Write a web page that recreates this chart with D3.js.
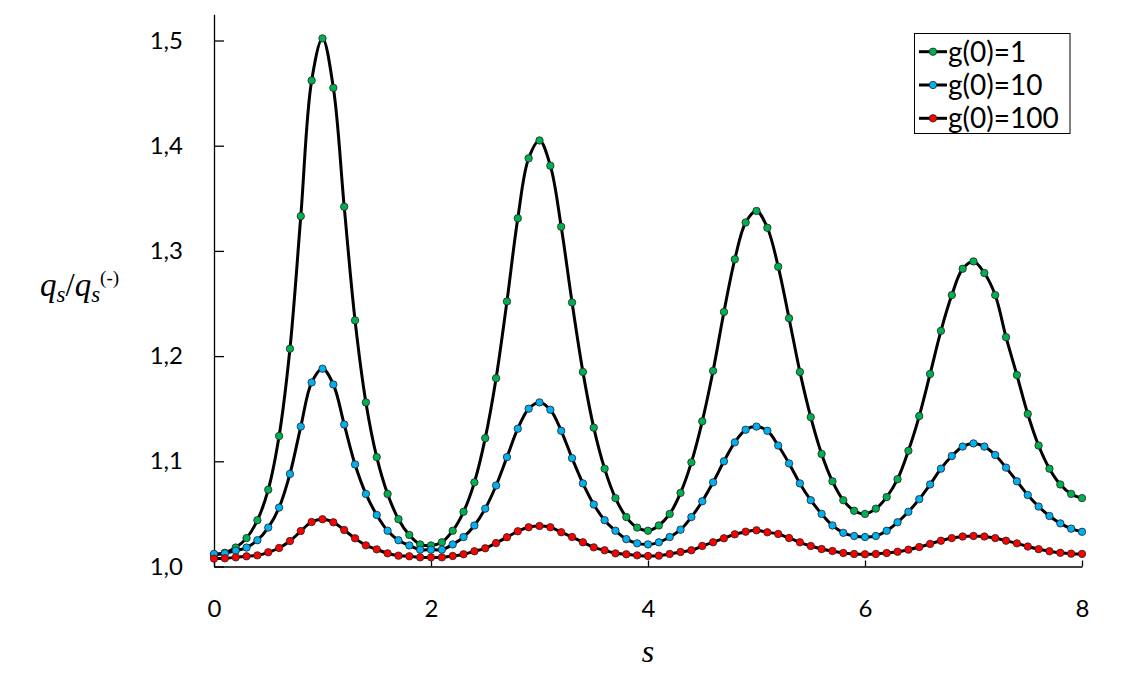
<!DOCTYPE html>
<html>
<head>
<meta charset="utf-8">
<script src="https://cdn.jsdelivr.net/npm/d3@7"></script>
<style>
  html, body { margin: 0; padding: 0; background: #fff; }
  svg { display: block; }
  .tick text { font-family: Lato, "Open Sans", sans-serif; font-size: 24px; fill: #000; }
  .serif { font-family: "Liberation Serif", "DejaVu Serif", serif; }
</style>
</head>
<body>
<svg id="chart" width="1133" height="678"></svg>
<script>
// ---- data (s = 0, 0.1, ..., 8.0) ----
const sValues = d3.range(81).map(i => +(i / 10).toFixed(1));

const seriesNames = ["g(0)=1", "g(0)=10", "g(0)=100"];
const seriesColors = ["#00B050", "#00B0F0", "#FF0000"];

const g1 = [
  1.011, 1.013, 1.018, 1.027, 1.044, 1.073, 1.124, 1.207, 1.333, 1.462,
  1.502, 1.455, 1.342, 1.234, 1.156, 1.104, 1.069, 1.045, 1.030, 1.021,
  1.020, 1.023, 1.034, 1.052, 1.080, 1.122, 1.179, 1.252, 1.331, 1.388,
  1.405, 1.381, 1.323, 1.251, 1.185, 1.132, 1.093, 1.065, 1.047, 1.037,
  1.034, 1.039, 1.050, 1.070, 1.099, 1.138, 1.186, 1.242, 1.292, 1.327,
  1.338, 1.322, 1.285, 1.236, 1.185, 1.142, 1.107, 1.081, 1.063, 1.053,
  1.050, 1.055, 1.066, 1.083, 1.110, 1.143, 1.183, 1.224, 1.258, 1.283,
  1.290, 1.279, 1.258, 1.218, 1.182, 1.145, 1.115, 1.093, 1.078, 1.069,
  1.065
];

const g10 = [
  1.012, 1.0125, 1.015, 1.018, 1.025, 1.037, 1.056, 1.088, 1.133, 1.175,
  1.188, 1.173, 1.135, 1.097, 1.069, 1.049, 1.034, 1.025, 1.020, 1.016,
  1.016, 1.016, 1.021, 1.028, 1.039, 1.055, 1.077, 1.104, 1.131, 1.150,
  1.156, 1.149, 1.129, 1.103, 1.079, 1.059, 1.044, 1.034, 1.026, 1.022,
  1.021, 1.023, 1.028, 1.035, 1.047, 1.062, 1.080, 1.100, 1.118, 1.130,
  1.133, 1.129, 1.115, 1.098, 1.079, 1.063, 1.050, 1.039, 1.032, 1.029,
  1.028, 1.029, 1.034, 1.042, 1.052, 1.064, 1.078, 1.093, 1.105, 1.114,
  1.117, 1.114, 1.106, 1.094, 1.081, 1.068, 1.057, 1.048, 1.041, 1.036,
  1.033
];

const g100 = [
  1.0075, 1.0078, 1.0087, 1.0097, 1.0106, 1.0135, 1.0176, 1.0242, 1.0337, 1.0423,
  1.0449, 1.0420, 1.0347, 1.0268, 1.0201, 1.0163, 1.0125, 1.0103, 1.0097, 1.0087,
  1.0087, 1.0087, 1.0100, 1.0116, 1.0145, 1.0173, 1.0223, 1.0278, 1.0335, 1.0373,
  1.0385, 1.0373, 1.0326, 1.0280, 1.0230, 1.0182, 1.0154, 1.0125, 1.0116, 1.0106,
  1.0100, 1.0103, 1.0119, 1.0138, 1.0154, 1.0195, 1.0230, 1.0268, 1.0306, 1.0331,
  1.0344, 1.0325, 1.0309, 1.0271, 1.0230, 1.0195, 1.0166, 1.0147, 1.0128, 1.0119,
  1.0116, 1.0119, 1.0128, 1.0140, 1.0160, 1.0185, 1.0215, 1.0245, 1.0270, 1.0285,
  1.0290, 1.0285, 1.0270, 1.0245, 1.0220, 1.0190, 1.0165, 1.0145, 1.0130, 1.0122,
  1.0120
];

const xTickValues = [0, 2, 4, 6, 8];
const xTickLabels = ["0", "2", "4", "6", "8"];
const yTickValues = [1.0, 1.1, 1.2, 1.3, 1.4, 1.5];
const yTickLabels = ["1,0", "1,1", "1,2", "1,3", "1,4", "1,5"];

// ---- drawing ----
const svg = d3.select("#chart");
const x = d3.scaleLinear().domain([0, 8]).range([214, 1082]);
const y = d3.scaleLinear().domain([1.0, 1.525]).range([566.5, 14.2]);

const xAxis = d3.axisBottom(x)
  .tickValues(xTickValues)
  .tickFormat((d, i) => xTickLabels[i])
  .tickSizeInner(-6).tickSizeOuter(0).tickPadding(33);
const yAxis = d3.axisLeft(y)
  .tickValues(yTickValues)
  .tickFormat((d, i) => yTickLabels[i])
  .tickSizeInner(-10).tickSizeOuter(0).tickPadding(31);

const gx = svg.append("g").attr("transform", `translate(0,${y(1.0)})`).call(xAxis);
const gy = svg.append("g").attr("transform", `translate(${x(0)},0)`).call(yAxis);
[gx, gy].forEach(g => {
  g.selectAll("path.domain").attr("stroke", "#000").attr("stroke-width", 1.3);
  g.selectAll(".tick line").attr("stroke", "#000").attr("stroke-width", 1.3);
});

const line = d3.line()
  .x((d, i) => x(sValues[i]))
  .y(d => y(d))
  .curve(d3.curveCatmullRom.alpha(0.5));

const allSeries = [g1, g10, g100];
allSeries.forEach((vals, k) => {
  const g = svg.append("g");
  g.append("path")
    .datum(vals)
    .attr("d", line)
    .attr("fill", "none")
    .attr("stroke", "#000")
    .attr("stroke-width", 3);
  g.selectAll("circle")
    .data(vals)
    .join("circle")
    .attr("cx", (d, i) => x(sValues[i]))
    .attr("cy", d => y(d))
    .attr("r", 3.7)
    .attr("fill", seriesColors[k])
    .attr("stroke", "#222")
    .attr("stroke-width", 0.8);
});

// ---- axis titles ----
svg.append("text")
  .attr("class", "serif")
  .attr("x", (x(0) + x(8)) / 2)
  .attr("y", 662)
  .attr("text-anchor", "middle")
  .style("font-style", "italic")
  .style("font-size", "32px")
  .text("s");

const yt = svg.append("text")
  .attr("class", "serif")
  .attr("x", 40)
  .attr("y", 296)
  .style("font-size", "33px");
yt.append("tspan").style("font-style", "italic").text("q");
yt.append("tspan").style("font-style", "italic").style("font-size", "23px").attr("dy", 6).text("s");
yt.append("tspan").attr("dy", -6).text("/");
yt.append("tspan").style("font-style", "italic").text("q");
yt.append("tspan").style("font-style", "italic").style("font-size", "23px").attr("dy", 6).text("s");
yt.append("tspan").style("font-size", "19px").attr("dy", -18).text("(-)");

// ---- legend ----
const legend = svg.append("g");
legend.append("rect")
  .attr("x", 914.5).attr("y", 33.5)
  .attr("width", 155.5).attr("height", 100)
  .attr("fill", "#fff").attr("stroke", "#000").attr("stroke-width", 1);
seriesNames.forEach((name, k) => {
  const cy = 51.7 + k * 33.3;
  legend.append("line")
    .attr("x1", 919).attr("x2", 947)
    .attr("y1", cy).attr("y2", cy)
    .attr("stroke", "#000").attr("stroke-width", 3);
  legend.append("circle")
    .attr("cx", 933).attr("cy", cy).attr("r", 3.7)
    .attr("fill", seriesColors[k]).attr("stroke", "#222").attr("stroke-width", 0.8);
  legend.append("text")
    .attr("x", 948).attr("y", cy)
    .attr("dy", "0.35em")
    .style("font-family", "Lato, 'Open Sans', sans-serif")
    .style("font-size", "28px")
    .text(name);
});
</script>
</body>
</html>
